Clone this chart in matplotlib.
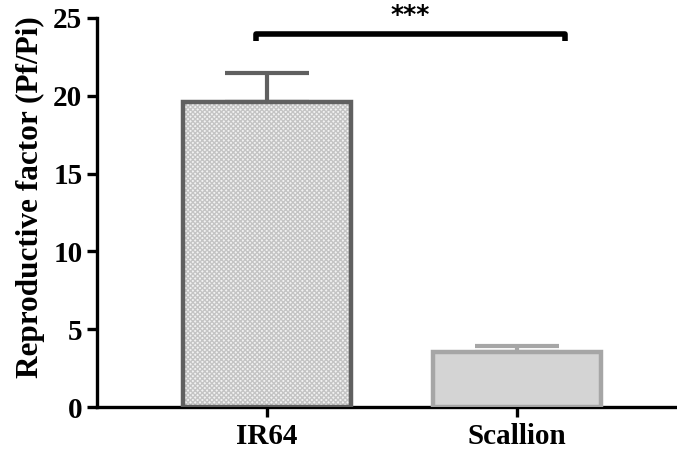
import matplotlib
matplotlib.use("Agg")
import matplotlib.pyplot as plt
import numpy as np

groups = ["IR64", "Scallion"]
means = [19.6, 3.55]
errors = [1.85, 0.35]
fills = ["#f2f2f2", "#d4d4d4"]
edges = ["#606060", "#a6a6a6"]
hatches = ["xxxxxxx", None]
significance = "***"

plt.rcParams["font.family"] = ["Liberation Serif", "DejaVu Serif"]
plt.rcParams["font.weight"] = "bold"
plt.rcParams["hatch.linewidth"] = 1.0

fig = plt.figure(figsize=(6.77, 4.54), dpi=100)
ax = fig.add_axes([97 / 677, 1 - 407 / 454, 580 / 677, 389 / 454])

x = np.arange(len(groups))
width = 0.67

for i in range(len(groups)):
  # error bar (upper only), drawn first so the bar edge covers its base
  ax.errorbar(
    x[i], means[i], yerr=[[0], [errors[i]]], fmt="none",
    ecolor=edges[i], elinewidth=3, capsize=30, capthick=3, zorder=1,
  )
  if hatches[i]:
    plt.rcParams["hatch.color"] = "#c4c4c4"
    ax.bar(x[i], means[i], width, color=fills[i], hatch=hatches[i],
           edgecolor="#c4c4c4", linewidth=0, zorder=2)
  else:
    ax.bar(x[i], means[i], width, color=fills[i], linewidth=0, zorder=2)
  ax.bar(x[i], means[i], width, fill=False, edgecolor=edges[i],
         linewidth=3.2, zorder=3)

# significance bracket
y_br = 24.0
ax.plot([x[0] - 0.045, x[0] - 0.045, x[1] + 0.19, x[1] + 0.19],
        [y_br - 0.5, y_br, y_br, y_br - 0.5],
        color="black", lw=4, solid_capstyle="butt", clip_on=False)
ax.text((x[0] - 0.045 + x[1] + 0.19) / 2, y_br + 0.4, significance,
        ha="center", va="bottom", fontsize=18, family="DejaVu Sans",
        fontweight="bold", clip_on=False)

ax.set_xlim(-0.68, 1.64)
ax.set_ylim(0, 25)
ax.set_yticks([0, 5, 10, 15, 20, 25])
ax.set_xticks(x)
ax.set_xticklabels(groups)
ax.set_ylabel("Reproductive factor (Pf/Pi)", fontsize=22.5, fontweight="bold")
ax.yaxis.set_label_coords(-0.09, 0.54)

for side in ["top", "right"]:
  ax.spines[side].set_visible(False)
for side in ["left", "bottom"]:
  ax.spines[side].set_linewidth(2.4)
ax.tick_params(width=2.4, length=7, labelsize=21)
ax.tick_params(axis="x", pad=4.5)
ax.tick_params(axis="y", pad=3.5)
for lab in ax.get_xticklabels() + ax.get_yticklabels():
  lab.set_fontweight("bold")

fig.savefig("out.png", dpi=100)
